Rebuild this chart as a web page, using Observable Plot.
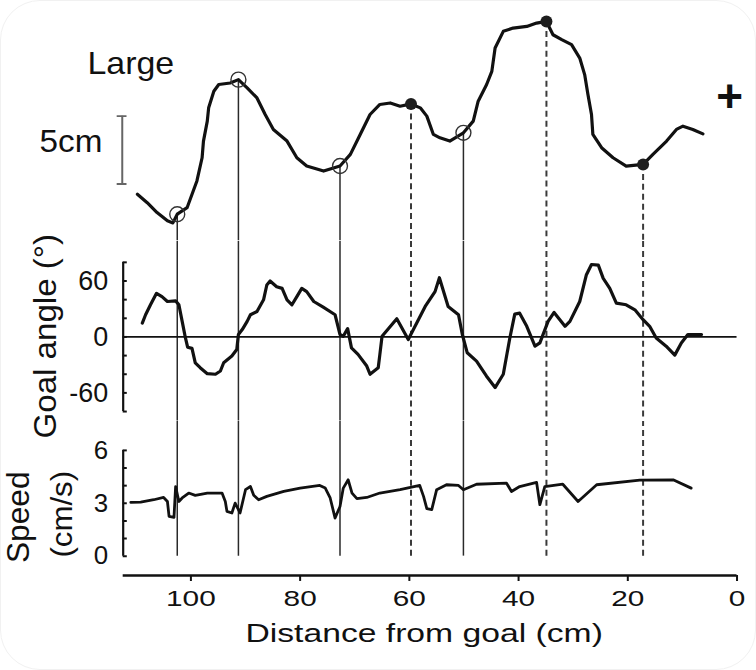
<!DOCTYPE html>
<html><head><meta charset="utf-8">
<script src="https://cdn.jsdelivr.net/npm/d3@7"></script>
<script src="https://cdn.jsdelivr.net/npm/@observablehq/plot@0.6"></script>
<style>
body{margin:0;background:#fff;}
#chart{position:relative;width:756px;height:670px;overflow:hidden;font-family:"Liberation Sans",Arial,sans-serif;box-sizing:border-box;border:1px solid #f1f1f1;border-radius:40px;}
#chart svg{position:absolute;left:0;overflow:visible;}
</style></head><body><div id="chart"></div>
<script>
// ---------- data ----------
const xMax = 112.4;                       // left end of distance axis (cm)
const xTicks = [100, 80, 60, 40, 20, 0];
const xLabel = "Distance from goal (cm)";

// top panel: lateral trajectory (cm)
const trajDist = [109.8,108.0,106.2,104.3,103.3,102.5,100.7,98.9,97.95,97.7,97.0,96.75,95.8,94.9,92.8,91.3,89.7,87.9,86.4,84.9,82.4,80.6,78.8,75.7,72.7,70.8,69.0,67.2,65.4,63.5,61.7,59.7,58.0,56.8,55.6,54.4,52.6,50.1,48.3,47.4,45.85,44.9,44.3,42.8,41.0,38.5,36.7,34.9,33.7,32.1,30.3,28.8,27.9,27.3,26.65,26.4,24.8,22.7,20.3,17.2,15.4,12.9,11.1,9.9,8.1,6.25];
const trajLat  = [2.70,2.08,1.35,0.74,0.59,1.23,1.71,3.68,5.39,6.62,8.09,9.07,10.29,10.79,10.90,11.15,10.54,9.80,8.58,7.48,6.62,5.39,4.78,4.41,4.78,5.64,7.11,8.58,9.32,9.43,9.19,9.36,9.07,8.46,7.11,6.86,6.62,7.23,8.09,9.56,10.79,11.76,13.48,14.71,14.95,15.07,15.32,15.44,14.46,14.10,13.73,12.74,11.52,10.05,8.58,7.11,6.13,5.39,4.78,4.90,5.64,6.62,7.48,7.72,7.48,7.15];
const openDist   = [102.5, 91.3, 72.7, 50.1];
const openLat    = [1.23, 11.15, 4.78, 7.23];
const filledDist = [59.7, 34.9, 17.2];
const filledLat  = [9.36, 15.44, 4.90];
const panelLabel = "Large";
const scaleLabel = "5cm";
const scaleBarDist = 112.57, scaleBarLat = [3.46, 8.46], scaleCap = [113.5, 111.7];
const goalMark = "+", goalMarkDist = 1.37, goalMarkLat = 9.85;

// middle panel: goal angle (deg)
const angleDist = [108.9,108.3,107.4,106.3,105.3,104.3,102.8,102.2,101.6,101.0,100.6,99.8,99.2,98.3,97.0,95.5,94.6,94.0,92.5,91.6,91.3,90.6,89.7,89.1,87.9,86.7,86.1,85.5,84.3,83.3,82.4,81.5,80.6,79.7,78.8,77.5,75.7,73.6,72.7,72.1,71.3,70.6,69.4,67.8,67.2,65.7,65.4,65.0,62.3,60.2,57.1,55.3,54.5,52.9,51.0,50.3,49.4,47.7,45.9,44.3,42.8,41.6,40.7,39.8,38.5,37.0,36.1,34.6,33.5,31.5,30.6,28.8,27.6,26.65,25.4,24.5,23.3,22.1,20.3,18.7,17.2,16.0,14.8,12.98,11.4,10.2,9.0,6.5];
const angleDeg  = [14.9,23.8,34.5,46.8,43.3,38.0,38.7,34.5,16.7,-1.1,-11,-12.3,-27.7,-33,-39.4,-40,-36.5,-27.7,-20.5,-13.4,2.6,7.9,16.7,23.8,27.3,39.8,55.7,60,53.9,52.1,39.8,34.5,43.3,52.1,48.6,38,31.6,23.8,2.6,0.7,8.9,-11.7,-18.7,-31.2,-40,-33,-18.7,0.7,19.6,-2.8,32.7,48.6,63.5,32.7,23.8,2.6,-17,-25.9,-41.8,-54.3,-40,-1.1,24.5,25.5,11.4,-9.9,-6.4,16.7,26.3,11.4,16.7,38,66.4,77.7,77,62.8,52.1,36.2,34.5,29.1,18.5,11.4,-1.1,-9.9,-19.5,-6.4,2.6,2.6];
const angleTicks  = [-80,-60,-40,-20,0,20,40,60,80];
const angleLabels = [-60, 0, 60];
const angleTitle  = "Goal angle (°)";

// bottom panel: speed (cm/s)
const speedDist = [111.0,109.2,106.8,105.0,104.3,104.0,103.1,102.8,102.2,101.6,100.4,99.2,97.0,94.3,93.7,93.4,92.5,91.9,91.0,90.0,89.1,88.5,87.6,86.1,83.0,80.0,76.4,75.4,74.5,73.6,72.7,72.1,71.2,70.5,69.6,67.8,65.4,61.7,58.1,57.4,56.8,55.9,55.0,53.2,51.0,50.1,47.7,42.2,41.3,39.8,36.7,36.1,35.2,31.9,29.1,25.7,17.8,11.7,8.4];
const speedVal  = [3.05,3.07,3.2,3.33,3.1,2.26,2.2,3.95,3.1,3.3,3.58,3.45,3.58,3.58,3.1,2.54,2.45,3.01,2.45,3.77,3.95,3.45,3.2,3.39,3.67,3.86,4.01,3.86,3.3,2.16,2.82,3.86,4.33,3.58,3.26,3.33,3.58,3.77,4.01,3.39,2.69,2.64,3.77,4.05,4.01,3.77,4.08,4.14,3.67,3.95,4.18,2.92,3.95,4.08,3.1,4.05,4.31,4.33,3.86];
const speedTicks  = [0,1,2,3,4,5,6];
const speedLabels = [0, 3, 6];
const speedTitle1 = "Speed", speedTitle2 = "(cm/s)";

// ---------- build ----------
const traj   = trajDist.map((d, i) => ({dist: d, lat: trajLat[i]}));
const opens  = openDist.map((d, i) => ({dist: d, lat: openLat[i]}));
const fills  = filledDist.map((d, i) => ({dist: d, lat: filledLat[i]}));
const angle  = angleDist.map((d, i) => ({dist: d, deg: angleDeg[i]}));
const speed  = speedDist.map((d, i) => ({dist: d, v: speedVal[i]}));

const ink = "#111";
const W = 756, ML = 122, MR = 18.5;
const font = '"Liberation Sans", Arial, sans-serif';
const xScale = {domain: [0, xMax], reverse: true, axis: null, label: null};
const base = {width: W, marginLeft: ML, marginRight: MR, style: {fontFamily: font, color: ink, background: "transparent", overflow: "visible"}};
const solidRule = {stroke: "#2a2a2a", strokeWidth: 1.5};
const dashRule  = {stroke: "#3a3a3a", strokeWidth: 2, strokeDasharray: "6,4"};
const chart = document.getElementById("chart");
function place(svg, top) { svg.style.top = top + "px"; chart.appendChild(svg); return svg; }
function stretchTo(svg, content, width) {
  svg.querySelectorAll("text").forEach(t => {
    if (t.textContent === content) { t.setAttribute("textLength", width); t.setAttribute("lengthAdjust", "spacingAndGlyphs"); }
  });
}

// top panel
const yA = [-0.735, 16.91];
const A = Plot.plot({...base, height: 240, marginTop: 0, marginBottom: 0,
  x: xScale, y: {domain: yA, axis: null, label: null},
  marks: [
    Plot.ruleX(opens, {x: "dist", y1: "lat", y2: yA[0], ...solidRule}),
    Plot.ruleX(fills, {x: "dist", y1: "lat", y2: yA[0], ...dashRule}),
    Plot.line(traj, {x: "dist", y: "lat", stroke: ink, strokeWidth: 3.2, strokeLinejoin: "round"}),
    Plot.dot(opens, {x: "dist", y: "lat", r: 7.5, stroke: "#333", strokeWidth: 1.4, fill: "none"}),
    Plot.dot(fills, {x: "dist", y: "lat", r: 6, fill: "#1e1e1e", stroke: "none"}),
    Plot.ruleX([scaleBarDist], {y1: scaleBarLat[0], y2: scaleBarLat[1], stroke: "#666", strokeWidth: 2}),
    Plot.ruleY(scaleBarLat, {y: d => d, x1: scaleCap[0], x2: scaleCap[1], stroke: "#666", strokeWidth: 2}),
    Plot.text([panelLabel], {x: 111.0, y: 11.54, text: d => d, fontSize: 32, textAnchor: "middle", lineAnchor: "bottom", fill: ink}),
    Plot.text([scaleLabel], {x: 116.2, y: 6.54, text: d => d, fontSize: 31, textAnchor: "end", lineAnchor: "middle", fill: ink}),
    Plot.text([goalMark], {x: goalMarkDist, y: goalMarkLat, text: d => d, fontSize: 46, fontWeight: "bold", textAnchor: "middle", lineAnchor: "middle", fill: ink})
  ]});
place(A, 0);
stretchTo(A, panelLabel, 87);
stretchTo(A, scaleLabel, 63);

// goal angle panel
const yB = [-90.16, 102.35];
const B = Plot.plot({...base, height: 180, marginTop: 0, marginBottom: 0,
  x: xScale, y: {domain: yB, axis: null, label: null},
  marks: [
    Plot.ruleX(opens, {x: "dist", ...solidRule}),
    Plot.ruleX(fills, {x: "dist", ...dashRule}),
    Plot.ruleY([0], {stroke: ink, strokeWidth: 1.7}),
    Plot.line(angle, {x: "dist", y: "deg", stroke: ink, strokeWidth: 3.2, strokeLinejoin: "round"}),
    Plot.ruleX([xMax], {y1: angleTicks[0], y2: angleTicks[angleTicks.length - 1], stroke: ink, strokeWidth: 2.2}),
    Plot.ruleY(angleTicks, {y: d => d, x1: xMax, x2: xMax - 0.75, stroke: ink, strokeWidth: 2}),
    Plot.axisY({ticks: angleLabels, tickSize: 0, tickPadding: 15, fontSize: 27, tickFormat: d => String(d), label: null}),
    Plot.text([angleTitle], {frameAnchor: "left", dx: 55 - ML, dy: 5, rotate: -90, text: d => d, fontSize: 31, textAnchor: "middle", lineAnchor: "bottom", fill: ink})
  ]});
place(B, 240);
stretchTo(B, angleTitle, 205);

// speed panel
const yC = [-0.849, 7.64];
const C = Plot.plot({...base, height: 150, marginTop: 0, marginBottom: 0,
  x: xScale, y: {domain: yC, axis: null, label: null},
  marks: [
    Plot.ruleX(opens, {x: "dist", y1: 0, y2: yC[1], ...solidRule}),
    Plot.ruleX(fills, {x: "dist", y1: 0, y2: yC[1], ...dashRule}),
    Plot.line(speed, {x: "dist", y: "v", stroke: ink, strokeWidth: 2.8, strokeLinejoin: "round"}),
    Plot.ruleX([xMax], {y1: speedTicks[0], y2: speedTicks[speedTicks.length - 1], stroke: ink, strokeWidth: 2.2}),
    Plot.ruleY(speedTicks, {y: d => d, x1: xMax, x2: xMax - 0.75, stroke: ink, strokeWidth: 2}),
    Plot.axisY({ticks: speedLabels, tickSize: 0, tickPadding: 15, fontSize: 26, tickFormat: d => String(d), label: null}),
    Plot.text([speedTitle1], {frameAnchor: "left", dx: 28 - ML, dy: 516 - 420 - 75, rotate: -90, text: d => d, fontSize: 31, textAnchor: "middle", lineAnchor: "bottom", fill: ink}),
    Plot.text([speedTitle2], {frameAnchor: "left", dx: 71 - ML, dy: 513 - 420 - 75, rotate: -90, text: d => d, fontSize: 30, textAnchor: "middle", lineAnchor: "bottom", fill: ink})
  ]});
place(C, 420);
stretchTo(C, speedTitle1, 92);
stretchTo(C, speedTitle2, 87);

// distance axis
const D = Plot.plot({...base, height: 110, marginTop: 14, marginBottom: 96,
  x: {...xScale, axis: null}, y: {domain: [0, 1], axis: null, label: null},
  marks: [
    Plot.ruleY([0], {stroke: ink, strokeWidth: 2.4}),
    Plot.axisX({ticks: xTicks, tickSize: 6, tickPadding: 8, fontSize: 23, strokeWidth: 2, tickFormat: d => String(d), label: null}),
    Plot.text([xLabel], {frameAnchor: "bottom", dx: -6, dy: 67, text: d => d, fontSize: 26, textAnchor: "middle", lineAnchor: "bottom", fill: ink})
  ]});
place(D, 560);

// horizontal stretch of the distance-axis texts (the figure's glyphs are wide)
D.querySelectorAll("text").forEach(t => {
  const w = t.getComputedTextLength();
  t.setAttribute("textLength", (w * 1.3).toFixed(1));
  t.setAttribute("lengthAdjust", "spacingAndGlyphs");
});
</script></body></html>
